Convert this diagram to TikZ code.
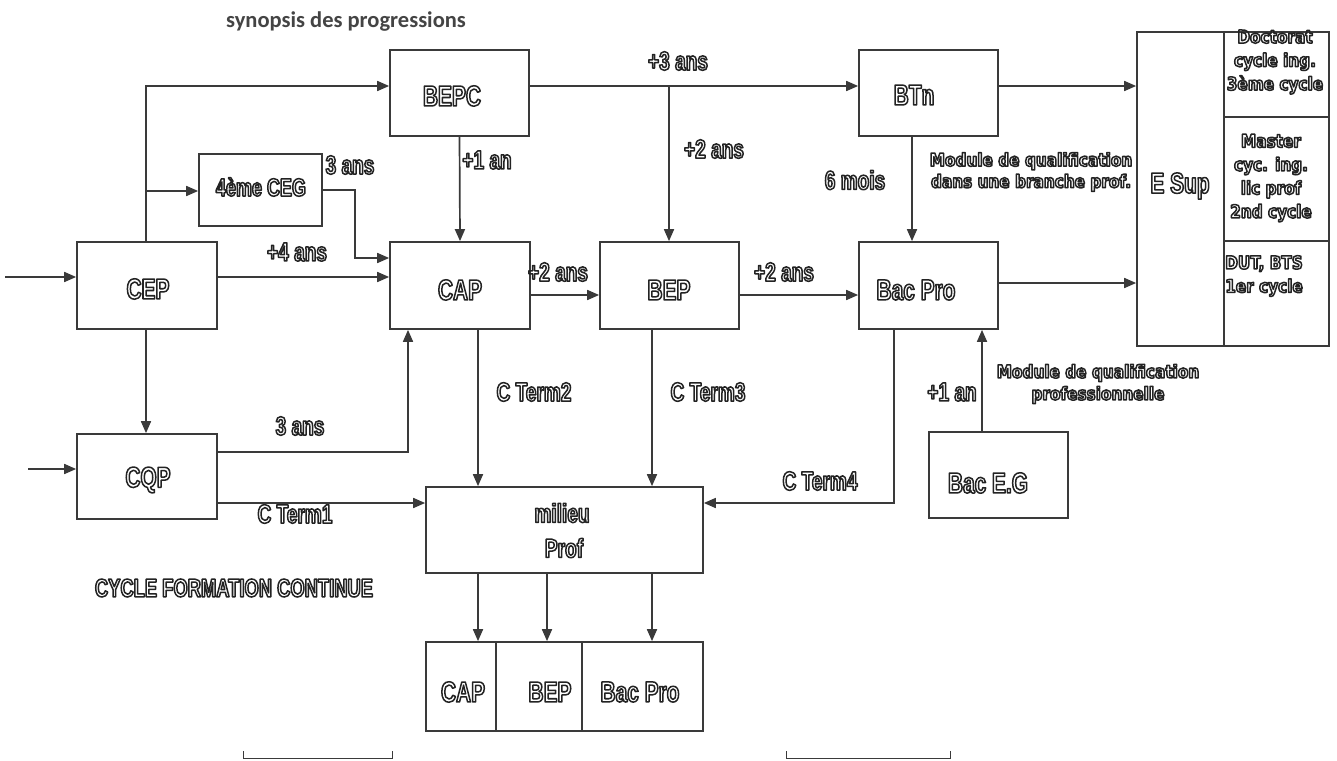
\documentclass[tikz,border=0pt]{standalone}
\usepackage{fontspec}
\setmainfont{Liberation Sans}
\newfontfamily\narf{Liberation Sans}[FakeStretch=0.72]
\newfontfamily\verf{DejaVu Sans}[FakeStretch=0.85]
\newfontfamily\carf{Carlito}
\usetikzlibrary{arrows.meta}
\definecolor{lc}{RGB}{58,58,58}
\definecolor{tc}{RGB}{35,35,35}
\newcommand\ol[1]{\special{pdf:literal direct 1 Tr 1.5 w 1 j}#1\special{pdf:literal direct 0 Tr}}
\newcommand\bx[5]{\node[box,minimum width={(#4-#2)*1pt},minimum height={(#5-#3)*1pt}] (#1) at ({(#2+#4)/2},{(#3+#5)/2}) {};}
\tikzset{
  box/.style={draw=lc,line width=1.7pt,fill=white,inner sep=0pt},
  ln/.style={draw=lc,line width=1.7pt},
  arr/.style={ln,-{Triangle[length=12pt,width=10pt]}},
  big/.style={text=tc,inner sep=0pt,font=\narf\bfseries\fontsize{29}{31}\selectfont},
  mid/.style={text=tc,inner sep=0pt,font=\narf\bfseries\fontsize{26.5}{28}\selectfont},
  ver/.style={text=tc,inner sep=0pt,align=center,font=\verf\bfseries\fontsize{18}{23.5}\selectfont},
}
\begin{document}
\begin{tikzpicture}[x=1pt,y=-1pt]
\useasboundingbox (0,0) rectangle (1337,760);
\fill[white] (0,0) rectangle (1337,760);
% boxes
\bx{CEP}{77}{242}{217}{329}
\bx{CQP}{77}{434}{217}{519}
\bx{CEG}{199}{154}{322}{226}
\bx{BEPC}{390}{50}{529}{136}
\bx{CAP}{390}{242}{530}{329}
\bx{BEP}{600}{242}{739}{329}
\bx{BTn}{859}{50}{998}{136}
\bx{BP}{859}{242}{998}{329}
\bx{EG}{929}{432}{1068}{518}
\bx{mil}{426}{487}{703}{573}
\bx{b1}{426}{642}{496}{731}
\bx{b2}{496}{642}{582}{731}
\bx{b3}{582}{642}{703}{731}
\bx{ES}{1137}{32}{1224}{346}
\bx{c1}{1224}{32}{1329}{117}
\bx{c2}{1224}{117}{1329}{241}
\bx{c3}{1224}{241}{1329}{346}
% box texts
\node[big] (tCEP) at (148,289) {\ol{CEP}};
\node[big] (tCQP) at (148,480) {\ol{CQP}};
\node[mid,font=\narf\bfseries\fontsize{25}{27}\selectfont] (tCEG) at (261,187) {\ol{4ème CEG}};
\node[big] (tBEPC) at (452,96) {\ol{BEPC}};
\node[big] (tCAP) at (460,290) {\ol{CAP}};
\node[big] (tBEP) at (669,290) {\ol{BEP}};
\node[big] (tBTn) at (914,95) {\ol{BTn}};
\node[big] (tBP) at (916,290) {\ol{Bac Pro}};
\node[big] (tEG) at (988,483) {\ol{Bac E.G}};
\node[big] (tES) at (1180,186) {\ol{E Sup}};
\node[mid] (tmil1) at (562,513) {\ol{milieu}};
\node[mid] (tmil2) at (564,548) {\ol{Prof}};
\node[big] (tb1) at (463,692) {\ol{CAP}};
\node[big] (tb2) at (550,692) {\ol{BEP}};
\node[big] (tb3) at (640,692) {\ol{Bac Pro}};
\node[ver] (tc1) at (1275,62) {\ol{Doctorat\\cycle ing.\\3ème cycle}};
\node[ver] (tc2) at (1271,178) {\ol{Master\\cyc. ing.\\lic prof\\2nd cycle}};
\node[ver,align=left,anchor=west] (tc3) at (1225,276) {\ol{DUT, BTS\\1er cycle}};
% title and labels
\node[text=tc!85,inner sep=0pt,font=\carf\bfseries\fontsize{22.5}{25}\selectfont] (title) at (346,22) {synopsis des progressions};
\node[mid] (l3a) at (350,165) {\ol{3 ans}};
\node[mid] (l4a) at (297,252) {\ol{+4 ans}};
\node[mid] (l1a) at (487,160) {\ol{+1 an}};
\node[mid] (l3b) at (678,61) {\ol{+3 ans}};
\node[mid] (l2a) at (714,149) {\ol{+2 ans}};
\node[mid] (l2b) at (558,272) {\ol{+2 ans}};
\node[mid] (l2c) at (784,272) {\ol{+2 ans}};
\node[mid] (l6m) at (855,180) {\ol{6 mois}};
\node[ver,font=\verf\bfseries\fontsize{18}{21.5}\selectfont] (mod1) at (1031,172) {\ol{Module de qualification\\dans une branche prof.}};
\node[mid] (l3c) at (300,426) {\ol{3 ans}};
\node[mid] (ct1) at (295,514) {\ol{C Term1}};
\node[mid] (ct2) at (534,392) {\ol{C Term2}};
\node[mid] (ct3) at (708,392) {\ol{C Term3}};
\node[mid] (ct4) at (820,481) {\ol{C Term4}};
\node[mid] (l1b) at (952,392) {\ol{+1 an}};
\node[ver,font=\verf\bfseries\fontsize{18}{22}\selectfont] (mod2) at (1098,384) {\ol{Module de qualification\\professionnelle}};
\node[text=tc,inner sep=0pt,font=\narf\bfseries\fontsize{25.5}{27}\selectfont] (cfc) at (234,588) {\ol{CYCLE FORMATION CONTINUE}};
% helper coordinates
\coordinate (in1) at (5,277);
\coordinate (in2) at (28,469);
\coordinate (a1) at (146,86);
\coordinate (a2) at (146,191);
\coordinate (a3) at (355,190);
\coordinate (a4) at (355,258);
\coordinate (a5) at (0,277);
\coordinate (a6) at (408,452);
\coordinate (a7) at (0,503);
\coordinate (a9) at (669,86);
\coordinate (a10) at (0,295);
\coordinate (a11) at (912,0);
\coordinate (a12) at (0,283);
\coordinate (a13) at (478,0);
\coordinate (a14) at (652,0);
\coordinate (a15) at (894,503);
\coordinate (a16) at (982,0);
\coordinate (a17) at (547,0);
% connectors
\draw[arr] (in1) -- (CEP.west |- in1);
\draw[arr] (in2) -- (CQP.west |- in2);
\draw[arr] (CEP.north -| a1) -- (a1) -- (BEPC.west |- a1);
\draw[arr] (a2) -- (CEG.west |- a2);
\draw[arr] (CEG.east |- a3) -- (a3) -- (a4) -- (CAP.west |- a4);
\draw[arr] (CEP.east |- a5) -- (CAP.west |- a5);
\draw[arr] (CEP.south -| a1) -- (CQP.north -| a1);
\draw[arr] (CQP.east |- a6) -- (a6) -- (CAP.south -| a6);
\draw[arr] (CQP.east |- a7) -- (mil.west |- a7);
\draw[arr] (BEPC.south) -- (CAP.north);
\draw[arr] (BEPC.east |- a9) -- (BTn.west |- a9);
\draw[arr] (a9) -- (BEP.north -| a9);
\draw[arr] (CAP.east |- a10) -- (BEP.west |- a10);
\draw[arr] (BEP.east |- a10) -- (BP.west |- a10);
\draw[arr] (BTn.south -| a11) -- (BP.north -| a11);
\draw[arr] (BTn.east |- a9) -- (ES.west |- a9);
\draw[arr] (BP.east |- a12) -- (ES.west |- a12);
\draw[arr] (CAP.south -| a13) -- (mil.north -| a13);
\draw[arr] (BEP.south -| a14) -- (mil.north -| a14);
\draw[arr] (BP.south -| a15) -- (a15) -- (mil.east |- a15);
\draw[arr] (EG.north -| a16) -- (BP.south -| a16);
\draw[arr] (mil.south -| a13) -- (b1.north -| a13);
\draw[arr] (mil.south -| a17) -- (b2.north -| a17);
\draw[arr] (mil.south -| a14) -- (b3.north -| a14);
% cut-off fragments at the bottom
\draw[ln,line width=1pt] (243,751) -- (243,758) -- (392,758) -- (392,751);
\draw[ln,line width=1pt] (786,751) -- (786,758) -- (950,758) -- (950,751);
\end{tikzpicture}
\end{document}
